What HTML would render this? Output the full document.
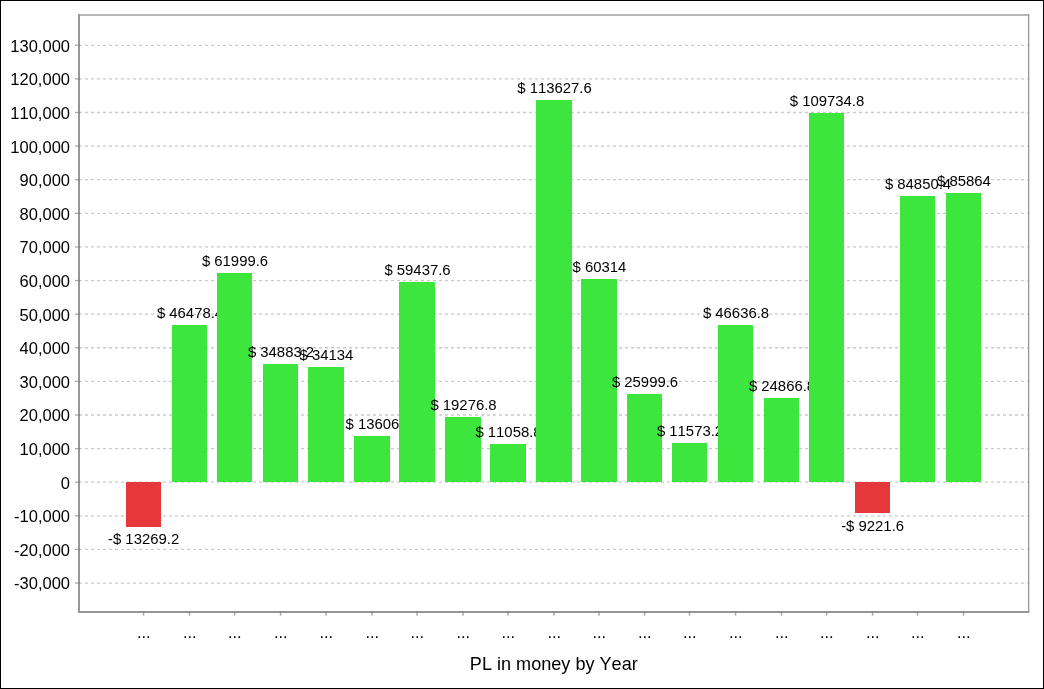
<!DOCTYPE html>
<html><head><meta charset="utf-8"><style>
html,body{margin:0;padding:0;background:#fff;}
body{width:1044px;height:689px;overflow:hidden;}
svg{display:block;will-change:transform;font-kerning:none;font-family:"Liberation Sans",sans-serif;}
</style></head><body>
<svg width="1044" height="689" viewBox="0 0 1044 689">
<rect x="0" y="0" width="1044" height="689" fill="#fff"/>

<g stroke="#cacaca" stroke-width="1.3" stroke-dasharray="3 3" shape-rendering="auto">
<line x1="79" y1="45.28" x2="1028" y2="45.28"/>
<line x1="79" y1="78.89" x2="1028" y2="78.89"/>
<line x1="79" y1="112.50" x2="1028" y2="112.50"/>
<line x1="79" y1="146.11" x2="1028" y2="146.11"/>
<line x1="79" y1="179.72" x2="1028" y2="179.72"/>
<line x1="79" y1="213.33" x2="1028" y2="213.33"/>
<line x1="79" y1="246.94" x2="1028" y2="246.94"/>
<line x1="79" y1="280.55" x2="1028" y2="280.55"/>
<line x1="79" y1="314.15" x2="1028" y2="314.15"/>
<line x1="79" y1="347.76" x2="1028" y2="347.76"/>
<line x1="79" y1="381.37" x2="1028" y2="381.37"/>
<line x1="79" y1="414.98" x2="1028" y2="414.98"/>
<line x1="79" y1="448.59" x2="1028" y2="448.59"/>
<line x1="79" y1="482.20" x2="1028" y2="482.20"/>
<line x1="79" y1="515.81" x2="1028" y2="515.81"/>
<line x1="79" y1="549.42" x2="1028" y2="549.42"/>
<line x1="79" y1="583.03" x2="1028" y2="583.03"/>
</g>
<g font-size="16.5" fill="#000" text-anchor="end">
<text x="70" y="52.38">130,000</text>
<text x="70" y="85.29">120,000</text>
<text x="70" y="118.90">110,000</text>
<text x="70" y="152.51">100,000</text>
<text x="70" y="186.12">90,000</text>
<text x="70" y="219.73">80,000</text>
<text x="70" y="253.34">70,000</text>
<text x="70" y="286.95">60,000</text>
<text x="70" y="320.55">50,000</text>
<text x="70" y="354.16">40,000</text>
<text x="70" y="387.77">30,000</text>
<text x="70" y="421.38">20,000</text>
<text x="70" y="454.99">10,000</text>
<text x="70" y="488.60">0</text>
<text x="70" y="522.21">-10,000</text>
<text x="70" y="555.82">-20,000</text>
<text x="70" y="589.43">-30,000</text>
</g>
<rect x="78" y="14" width="951" height="2" fill="#b8b8b8"/>
<rect x="1028" y="14" width="1" height="599" fill="#999"/>
<rect x="1029" y="14" width="1" height="599" fill="#e0e0e0"/>
<rect x="78" y="14" width="2" height="599" fill="#979797"/>
<rect x="78" y="611" width="951" height="2" fill="#959595"/>
<g stroke="#808080" stroke-opacity="0.68" stroke-width="1.3">
<line x1="75" y1="45.28" x2="80" y2="45.28"/>
<line x1="75" y1="78.89" x2="80" y2="78.89"/>
<line x1="75" y1="112.50" x2="80" y2="112.50"/>
<line x1="75" y1="146.11" x2="80" y2="146.11"/>
<line x1="75" y1="179.72" x2="80" y2="179.72"/>
<line x1="75" y1="213.33" x2="80" y2="213.33"/>
<line x1="75" y1="246.94" x2="80" y2="246.94"/>
<line x1="75" y1="280.55" x2="80" y2="280.55"/>
<line x1="75" y1="314.15" x2="80" y2="314.15"/>
<line x1="75" y1="347.76" x2="80" y2="347.76"/>
<line x1="75" y1="381.37" x2="80" y2="381.37"/>
<line x1="75" y1="414.98" x2="80" y2="414.98"/>
<line x1="75" y1="448.59" x2="80" y2="448.59"/>
<line x1="75" y1="482.20" x2="80" y2="482.20"/>
<line x1="75" y1="515.81" x2="80" y2="515.81"/>
<line x1="75" y1="549.42" x2="80" y2="549.42"/>
<line x1="75" y1="583.03" x2="80" y2="583.03"/>
</g>
<rect x="126" y="482" width="35" height="45" fill="#e6373b"/>
<text x="143.60" y="544.40" font-size="14.9" text-anchor="middle" fill="#000">-$ 13269.2</text>
<rect x="172" y="325" width="35" height="157" fill="#3ce63c"/>
<text x="190.00" y="318.40" font-size="14.9" text-anchor="middle" fill="#000">$ 46478.4</text>
<rect x="217" y="273" width="35" height="209" fill="#3ce63c"/>
<text x="235.00" y="266.40" font-size="14.9" text-anchor="middle" fill="#000">$ 61999.6</text>
<rect x="263" y="364" width="35" height="118" fill="#3ce63c"/>
<text x="281.00" y="357.40" font-size="14.9" text-anchor="middle" fill="#000">$ 34883.2</text>
<rect x="308" y="367" width="36" height="115" fill="#3ce63c"/>
<text x="326.50" y="360.40" font-size="14.9" text-anchor="middle" fill="#000">$ 34134</text>
<rect x="354" y="436" width="36" height="46" fill="#3ce63c"/>
<text x="372.50" y="429.40" font-size="14.9" text-anchor="middle" fill="#000">$ 13606</text>
<rect x="399" y="282" width="36" height="200" fill="#3ce63c"/>
<text x="417.50" y="275.40" font-size="14.9" text-anchor="middle" fill="#000">$ 59437.6</text>
<rect x="445" y="417" width="36" height="65" fill="#3ce63c"/>
<text x="463.50" y="410.40" font-size="14.9" text-anchor="middle" fill="#000">$ 19276.8</text>
<rect x="490" y="444" width="36" height="38" fill="#3ce63c"/>
<text x="508.50" y="437.40" font-size="14.9" text-anchor="middle" fill="#000">$ 11058.8</text>
<rect x="536" y="100" width="36" height="382" fill="#3ce63c"/>
<text x="554.50" y="92.70" font-size="14.9" text-anchor="middle" fill="#000">$ 113627.6</text>
<rect x="581" y="279" width="36" height="203" fill="#3ce63c"/>
<text x="599.50" y="272.40" font-size="14.9" text-anchor="middle" fill="#000">$ 60314</text>
<rect x="627" y="394" width="35" height="88" fill="#3ce63c"/>
<text x="645.00" y="387.40" font-size="14.9" text-anchor="middle" fill="#000">$ 25999.6</text>
<rect x="672" y="443" width="35" height="39" fill="#3ce63c"/>
<text x="690.00" y="436.40" font-size="14.9" text-anchor="middle" fill="#000">$ 11573.2</text>
<rect x="718" y="325" width="35" height="157" fill="#3ce63c"/>
<text x="736.00" y="318.40" font-size="14.9" text-anchor="middle" fill="#000">$ 46636.8</text>
<rect x="764" y="398" width="35" height="84" fill="#3ce63c"/>
<text x="782.00" y="391.40" font-size="14.9" text-anchor="middle" fill="#000">$ 24866.8</text>
<rect x="809" y="113" width="35" height="369" fill="#3ce63c"/>
<text x="827.00" y="106.40" font-size="14.9" text-anchor="middle" fill="#000">$ 109734.8</text>
<rect x="855" y="482" width="35" height="31" fill="#e6373b"/>
<text x="872.60" y="531.10" font-size="14.9" text-anchor="middle" fill="#000">-$ 9221.6</text>
<rect x="900" y="196" width="35" height="286" fill="#3ce63c"/>
<text x="918.00" y="189.40" font-size="14.9" text-anchor="middle" fill="#000">$ 84850.4</text>
<rect x="946" y="193" width="35" height="289" fill="#3ce63c"/>
<text x="964.00" y="186.40" font-size="14.9" text-anchor="middle" fill="#000">$ 85864</text>
<g>
<rect x="142.80" y="611" width="1.5" height="4.6" fill="#808080" fill-opacity="0.7"/>
<text x="143.80" y="638" font-size="16.5" text-anchor="middle" fill="#000">...</text>
<rect x="188.80" y="611" width="1.5" height="4.6" fill="#808080" fill-opacity="0.7"/>
<text x="189.80" y="638" font-size="16.5" text-anchor="middle" fill="#000">...</text>
<rect x="233.80" y="611" width="1.5" height="4.6" fill="#808080" fill-opacity="0.7"/>
<text x="234.80" y="638" font-size="16.5" text-anchor="middle" fill="#000">...</text>
<rect x="279.80" y="611" width="1.5" height="4.6" fill="#808080" fill-opacity="0.7"/>
<text x="280.80" y="638" font-size="16.5" text-anchor="middle" fill="#000">...</text>
<rect x="325.30" y="611" width="1.5" height="4.6" fill="#808080" fill-opacity="0.7"/>
<text x="326.30" y="638" font-size="16.5" text-anchor="middle" fill="#000">...</text>
<rect x="371.30" y="611" width="1.5" height="4.6" fill="#808080" fill-opacity="0.7"/>
<text x="372.30" y="638" font-size="16.5" text-anchor="middle" fill="#000">...</text>
<rect x="416.30" y="611" width="1.5" height="4.6" fill="#808080" fill-opacity="0.7"/>
<text x="417.30" y="638" font-size="16.5" text-anchor="middle" fill="#000">...</text>
<rect x="462.30" y="611" width="1.5" height="4.6" fill="#808080" fill-opacity="0.7"/>
<text x="463.30" y="638" font-size="16.5" text-anchor="middle" fill="#000">...</text>
<rect x="507.30" y="611" width="1.5" height="4.6" fill="#808080" fill-opacity="0.7"/>
<text x="508.30" y="638" font-size="16.5" text-anchor="middle" fill="#000">...</text>
<rect x="553.30" y="611" width="1.5" height="4.6" fill="#808080" fill-opacity="0.7"/>
<text x="554.30" y="638" font-size="16.5" text-anchor="middle" fill="#000">...</text>
<rect x="598.30" y="611" width="1.5" height="4.6" fill="#808080" fill-opacity="0.7"/>
<text x="599.30" y="638" font-size="16.5" text-anchor="middle" fill="#000">...</text>
<rect x="643.80" y="611" width="1.5" height="4.6" fill="#808080" fill-opacity="0.7"/>
<text x="644.80" y="638" font-size="16.5" text-anchor="middle" fill="#000">...</text>
<rect x="688.80" y="611" width="1.5" height="4.6" fill="#808080" fill-opacity="0.7"/>
<text x="689.80" y="638" font-size="16.5" text-anchor="middle" fill="#000">...</text>
<rect x="734.80" y="611" width="1.5" height="4.6" fill="#808080" fill-opacity="0.7"/>
<text x="735.80" y="638" font-size="16.5" text-anchor="middle" fill="#000">...</text>
<rect x="780.80" y="611" width="1.5" height="4.6" fill="#808080" fill-opacity="0.7"/>
<text x="781.80" y="638" font-size="16.5" text-anchor="middle" fill="#000">...</text>
<rect x="825.80" y="611" width="1.5" height="4.6" fill="#808080" fill-opacity="0.7"/>
<text x="826.80" y="638" font-size="16.5" text-anchor="middle" fill="#000">...</text>
<rect x="871.80" y="611" width="1.5" height="4.6" fill="#808080" fill-opacity="0.7"/>
<text x="872.80" y="638" font-size="16.5" text-anchor="middle" fill="#000">...</text>
<rect x="916.80" y="611" width="1.5" height="4.6" fill="#808080" fill-opacity="0.7"/>
<text x="917.80" y="638" font-size="16.5" text-anchor="middle" fill="#000">...</text>
<rect x="962.80" y="611" width="1.5" height="4.6" fill="#808080" fill-opacity="0.7"/>
<text x="963.80" y="638" font-size="16.5" text-anchor="middle" fill="#000">...</text>
</g>
<text x="553.8" y="670" font-size="18.1" text-anchor="middle" fill="#000">PL in money by Year</text>
<rect x="0.5" y="0.5" width="1043" height="688" fill="none" stroke="#000" stroke-width="1"/>
</svg></body></html>
